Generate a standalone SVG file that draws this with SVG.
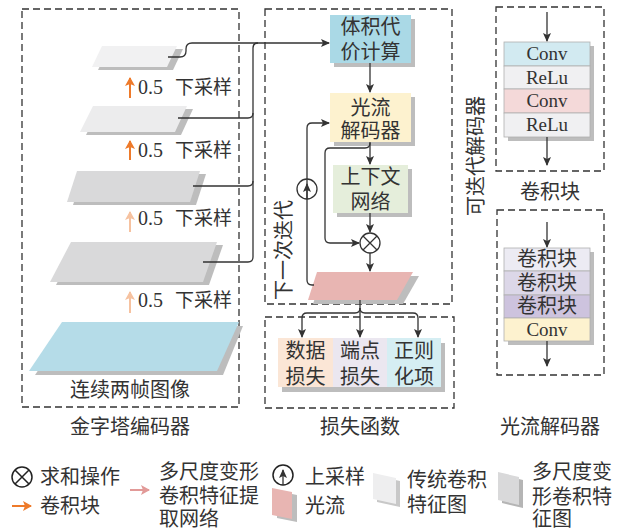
<svg xmlns="http://www.w3.org/2000/svg" width="625" height="532" viewBox="0 0 625 532">
<defs>
<marker id="ah" markerUnits="userSpaceOnUse" markerWidth="9" markerHeight="8" refX="8" refY="4" orient="auto"><path d="M0,0 L9,4 L0,8 L2,4 z" fill="#333"/></marker>
<marker id="ahO" markerUnits="userSpaceOnUse" markerWidth="9" markerHeight="10" refX="8" refY="5" orient="auto"><path d="M0,0 L9,5 L0,10 L2,5 z" fill="#ee7a2a"/></marker>
<marker id="ahL" markerUnits="userSpaceOnUse" markerWidth="9" markerHeight="10" refX="8" refY="5" orient="auto"><path d="M0,0 L9,5 L0,10 L2,5 z" fill="#f6c2a0"/></marker>
<marker id="ahP" markerUnits="userSpaceOnUse" markerWidth="9" markerHeight="10" refX="8" refY="5" orient="auto"><path d="M0,0 L9,5 L0,10 L2,5 z" fill="#e29a98"/></marker>
</defs>
<style>
.cn{font-family:"Noto Sans CJK SC","Noto Sans",sans-serif;font-size:20px;fill:#333}
.sm{font-size:19px}
.la{font-family:"Liberation Serif","DejaVu Serif",serif;font-size:19px;fill:#333}
.mid{text-anchor:middle}
.dash{fill:none;stroke:#333;stroke-width:1.3;stroke-dasharray:7,4}
.ln{fill:none;stroke:#333;stroke-width:1.3}
.sh{fill:#bdbdbd}
.row{stroke:#b0b0b0;stroke-width:0.8}
</style>
<rect width="625" height="532" fill="#fff"/>

<!-- Pyramid encoder -->
<g id="encoder">
<rect class="dash" x="22" y="9" width="217" height="398"/>
<g id="map1"><polygon class="sh" points="108,49 183,49 173,70 98,70"/><polygon fill="#f1f1f2" points="102,46 177,46 167,67 92,67"/></g>
<g id="map2"><polygon class="sh" points="99,109 193,109 181,135 86,135"/><polygon fill="#ececed" points="93,106 187,106 175,132 80,132"/></g>
<g id="map3"><polygon class="sh" points="83,174 206,174 196,205 73,205"/><polygon fill="#d9d9da" points="77,171 200,171 190,202 67,202"/></g>
<g id="map4"><polygon class="sh" points="77,245 223,245 209,285 56,285"/><polygon fill="#d9d9da" points="71,242 217,242 203,282 50,282"/></g>
<g id="img"><polygon class="sh" points="68,326 243,326 223,375 35,375"/><polygon fill="#b5dce8" points="62,322 239,322 217,371 29,371"/></g>
<line x1="130" y1="98" x2="130" y2="78" stroke="#ee7a2a" stroke-width="2" marker-end="url(#ahO)"/>
<line x1="130" y1="160" x2="130" y2="141" stroke="#ee7a2a" stroke-width="2" marker-end="url(#ahO)"/>
<line x1="130" y1="232" x2="130" y2="212" stroke="#f6c2a0" stroke-width="2" marker-end="url(#ahL)"/>
<line x1="130" y1="313" x2="130" y2="292" stroke="#f6c2a0" stroke-width="2" marker-end="url(#ahL)"/>
<text class="la" x="138" y="94" style="font-size:20px">0.5</text><text class="cn sm" x="175" y="94">下采样</text>
<text class="la" x="138" y="157" style="font-size:20px">0.5</text><text class="cn sm" x="175" y="157">下采样</text>
<text class="la" x="138" y="225" style="font-size:20px">0.5</text><text class="cn sm" x="175" y="225">下采样</text>
<text class="la" x="138" y="307" style="font-size:20px">0.5</text><text class="cn sm" x="175" y="307">下采样</text>
<text class="cn mid" x="130" y="397">连续两帧图像</text>
<text class="cn mid" x="130" y="434">金字塔编码器</text>
</g>

<!-- Iterative decoder -->
<g id="iter">
<rect class="dash" x="265" y="9" width="187" height="295"/>
<text class="cn mid" transform="translate(291,250) rotate(-90)">下一次迭代</text>
</g>
<g id="cost"><rect class="sh" x="334" y="19" width="81" height="48"/><rect fill="#aad9e6" x="330" y="15" width="81" height="48"/>
<text class="cn mid" x="370.5" y="34">体积代</text><text class="cn mid" x="370.5" y="59">价计算</text></g>
<g id="flowdec"><rect class="sh" x="334" y="97" width="81" height="49"/><rect fill="#fdf2cf" x="330" y="93" width="81" height="49"/>
<text class="cn mid" x="370.5" y="115">光流</text><text class="cn mid" x="370.5" y="138">解码器</text></g>
<g id="context"><rect class="sh" x="337" y="169" width="75" height="48"/><rect fill="#e5eedb" x="333" y="165" width="75" height="48"/>
<text class="cn mid" x="370.5" y="184">上下文</text><text class="cn mid" x="370.5" y="209">网络</text></g>
<g id="sum"><circle cx="370" cy="243" r="10" fill="#fff" stroke="#333" stroke-width="1.3"/><path d="M363,236 L377,250 M377,236 L363,250" stroke="#333" stroke-width="1.3"/></g>
<g id="flow"><polygon class="sh" points="322,276 419,276 403,304 313,304"/><polygon fill="#e8b5b2" points="317,272 413,272 397,300 308,300"/></g>
<g id="upsample"><circle cx="307" cy="189" r="10" fill="#fff" stroke="#333" stroke-width="1.3"/></g>

<!-- Loss -->
<g id="loss">
<rect class="dash" x="265" y="317" width="189" height="91"/>
<rect class="sh" x="282" y="343" width="163" height="49"/>
<rect fill="#fbe6d6" x="278" y="338" width="55" height="49"/>
<rect fill="#ebe7f0" x="333" y="338" width="54" height="49"/>
<rect fill="#d5eef3" x="387" y="338" width="54" height="49"/>
<text class="cn mid" x="305.5" y="358">数据</text><text class="cn mid" x="305.5" y="384">损失</text>
<text class="cn mid" x="360" y="358">端点</text><text class="cn mid" x="360" y="384">损失</text>
<text class="cn mid" x="414" y="358">正则</text><text class="cn mid" x="414" y="384">化项</text>
<text class="cn mid" x="360" y="434">损失函数</text>
</g>

<!-- Conv block -->
<g id="convblock">
<rect class="dash" x="496" y="7" width="108" height="164"/>
<rect class="sh" x="508" y="46" width="86" height="95"/>
<rect class="row" fill="#d2eaf1" x="504" y="42" width="86" height="24"/>
<rect class="row" fill="#f0f0f2" x="504" y="66" width="86" height="23"/>
<rect class="row" fill="#f4d9d9" x="504" y="89" width="86" height="24"/>
<rect class="row" fill="#f0f0f2" x="504" y="113" width="86" height="24"/>
<text class="la mid" x="547" y="60">Conv</text>
<text class="la mid" x="547" y="84">ReLu</text>
<text class="la mid" x="547" y="107">Conv</text>
<text class="la mid" x="547" y="131">ReLu</text>
<text class="cn mid" x="550" y="199">卷积块</text>
</g>
<text class="cn mid" transform="translate(483,156) rotate(-90)">可迭代解码器</text>

<!-- Flow decoder detail -->
<g id="flowdecoder">
<rect class="dash" x="497" y="210" width="107" height="165"/>
<rect class="sh" x="508" y="252" width="86" height="93"/>
<rect class="row" fill="#ecebf3" x="504" y="248" width="86" height="23"/>
<rect class="row" fill="#dcd7e8" x="504" y="271" width="86" height="24"/>
<rect class="row" fill="#cdc3de" x="504" y="295" width="86" height="23"/>
<rect class="row" fill="#fdf2cf" x="504" y="318" width="86" height="23"/>
<text class="cn mid" x="547" y="266">卷积块</text>
<text class="cn mid" x="547" y="290">卷积块</text>
<text class="cn mid" x="547" y="313">卷积块</text>
<text class="la mid" x="547" y="336">Conv</text>
<text class="cn mid" x="550" y="434">光流解码器</text>
</g>

<!-- Connectors -->
<g id="connectors">
<path class="ln" d="M168,57 H180 Q186,57 186,51 V49 Q186,43 192,43 H329" marker-end="url(#ah)"/>
<path class="ln" d="M203,262 H248 Q253,262 253,257 V48 Q253,43 258,43"/>
<path class="ln" d="M178,118 H248 Q253,118 253,113"/>
<path class="ln" d="M193,186 H248 Q253,186 253,181"/>
<path class="ln" d="M370,63 V92" marker-end="url(#ah)"/>
<path class="ln" d="M370,142 V164" marker-end="url(#ah)"/>
<path class="ln" d="M370,143 Q370,148 365,148 H330 Q325,148 325,153 V238 Q325,243 330,243 H359" marker-end="url(#ah)"/>
<path class="ln" d="M370,213 V232" marker-end="url(#ah)"/>
<path class="ln" d="M370,253 V271" marker-end="url(#ah)"/>
<path class="ln" d="M314,285 H312 Q307,285 307,280 V128 Q307,123 312,123 H329" marker-end="url(#ah)"/>
<path class="ln" d="M307,199 V184" marker-end="url(#ah)"/>
<path class="ln" d="M360,300 V337" marker-end="url(#ah)"/>
<path class="ln" d="M360,308 Q360,313 355,313 H307 Q302,313 302,318 V337" marker-end="url(#ah)"/>
<path class="ln" d="M360,308 Q360,313 365,313 H413 Q418,313 418,318 V337" marker-end="url(#ah)"/>
<path class="ln" d="M547,12 V41" marker-end="url(#ah)"/>
<path class="ln" d="M547,137 V165" marker-end="url(#ah)"/>
<path class="ln" d="M547,222 V247" marker-end="url(#ah)"/>
<path class="ln" d="M547,341 V366" marker-end="url(#ah)"/>
</g>

<!-- Legend -->
<g id="legend">
<circle cx="22" cy="477" r="10" fill="#fff" stroke="#222" stroke-width="1.5"/><path d="M15,470 L29,484 M29,470 L15,484" stroke="#222" stroke-width="1.5"/>
<text class="cn" x="40" y="484">求和操作</text>
<line x1="12" y1="506" x2="31" y2="506" stroke="#ee7a2a" stroke-width="2" marker-end="url(#ahO)"/>
<text class="cn" x="40" y="513">卷积块</text>
<line x1="130" y1="490" x2="149" y2="490" stroke="#e29a98" stroke-width="2" marker-end="url(#ahP)"/>
<text class="cn" x="159" y="479">多尺度变形</text>
<text class="cn" x="159" y="503">卷积特征提</text>
<text class="cn" x="159" y="526">取网络</text>
<circle cx="283" cy="475" r="10" fill="#fff" stroke="#222" stroke-width="1.5"/>
<path class="ln" d="M283,485 V470" marker-end="url(#ah)"/>
<text class="cn" x="305" y="484">上采样</text>
<polygon class="sh" points="277,491 297,495 297,522 277,518"/>
<polygon fill="#e8b5b2" points="272,488 292,492 292,519 272,515"/>
<text class="cn" x="305" y="513">光流</text>
<polygon fill="#c8c8c8" points="377,476 400,481 400,507 377,502"/>
<polygon fill="#eeeeef" points="373,473 396,478 396,504 373,499"/>
<text class="cn" x="407" y="487">传统卷积</text>
<text class="cn" x="407" y="512">特征图</text>
<polygon fill="#b5b5b5" points="502,475 523,480 523,508 502,503"/>
<polygon fill="#d9d9da" points="498,472 519,477 519,505 498,500"/>
<text class="cn" x="532" y="479">多尺度变</text>
<text class="cn" x="532" y="504">形卷积特</text>
<text class="cn" x="532" y="526">征图</text>
</g>
</svg>
